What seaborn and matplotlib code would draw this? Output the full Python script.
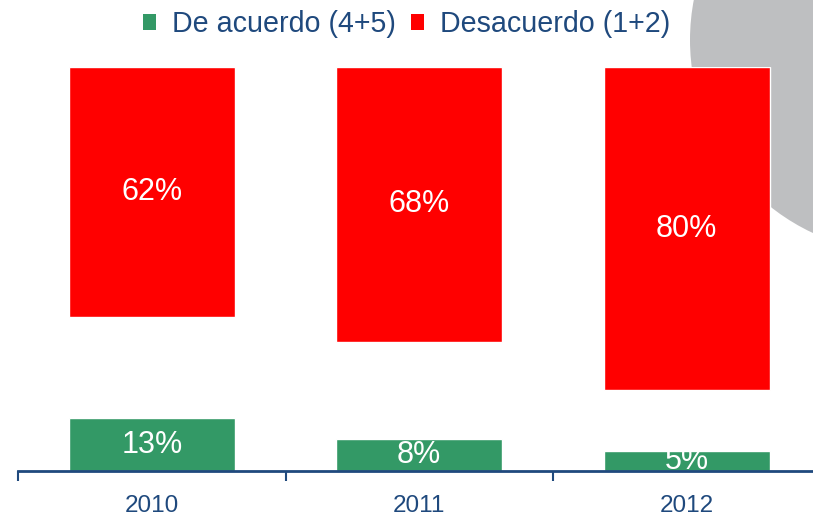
import matplotlib
matplotlib.use("Agg")
import matplotlib.pyplot as plt
from matplotlib.patches import Circle, Patch
import seaborn as sns
import pandas as pd

years = ["2010", "2011", "2012"]
acuerdo = [13, 8, 5]
desacuerdo = [62, 68, 80]
series_names = ["De acuerdo (4+5)", "Desacuerdo (1+2)"]

GREEN = "#339966"
RED = "#FF0000"
BLUE = "#1F497D"

sns.set_style("white")
plt.rcParams["font.family"] = ["Liberation Sans", "DejaVu Sans"]

fig = plt.figure(figsize=(8.13, 5.19), dpi=100)

# decorative grey circle at top right
circ = Circle((9.03, 4.79), 2.13, transform=fig.dpi_scale_trans,
              facecolor="#BEBFC1", edgecolor="none", zorder=-1)
fig.add_artist(circ)

ax = fig.add_axes([18 / 813, 48 / 519, 802.5 / 813, 404 / 519])
ax.patch.set_alpha(0)

df = pd.DataFrame({"year": years, "acuerdo": acuerdo, "desacuerdo": desacuerdo})

sns.barplot(data=df, x="year", y="acuerdo", color=GREEN, saturation=1,
            width=0.62, edgecolor="white", linewidth=1, ax=ax)
ax.set_ylim(0, 100)

ax2 = ax.twinx()
sns.barplot(data=df, x="year", y="desacuerdo", color=RED, saturation=1,
            width=0.62, edgecolor="white", linewidth=1, ax=ax2)
ax2.set_ylim(100, 0)
ax2.set_xlim(ax.get_xlim())

ax.bar_label(ax.containers[0], labels=[f"{v}%" for v in acuerdo],
             label_type="center", color="white", fontsize=22)
ax2.bar_label(ax2.containers[0], labels=[f"{v}%" for v in desacuerdo],
              label_type="center", color="white", fontsize=22)

for a in (ax, ax2):
    for s in ("left", "right", "top"):
        a.spines[s].set_visible(False)
    a.set_yticks([])
    a.set_ylabel("")
    a.set_xlabel("")
ax2.spines["bottom"].set_visible(False)
ax.spines["bottom"].set_color(BLUE)
ax.spines["bottom"].set_linewidth(2)

ax.set_xticks([0, 1, 2])
ax.set_xticklabels(years, fontsize=17.5, color=BLUE)
ax.set_xticks([-0.5, 0.5, 1.5, 2.5], minor=True)
ax.tick_params(axis="x", which="major", length=0, pad=17)
ax.tick_params(axis="x", which="minor", length=7.5, width=1.5,
               color=BLUE, direction="out", bottom=True)
ax2.tick_params(axis="x", which="both", bottom=False, labelbottom=False)

handles = [Patch(facecolor=GREEN, edgecolor="none"),
           Patch(facecolor=RED, edgecolor="none")]
fig.legend(handles, series_names, loc="center", ncol=2,
           bbox_to_anchor=(0.5, 1 - 24 / 519), frameon=False, fontsize=20.6,
           labelcolor=BLUE, handlelength=0.46, handleheight=0.46,
           handletextpad=0.55, columnspacing=0.55, borderpad=0)

fig.savefig("out.png", dpi=100)
